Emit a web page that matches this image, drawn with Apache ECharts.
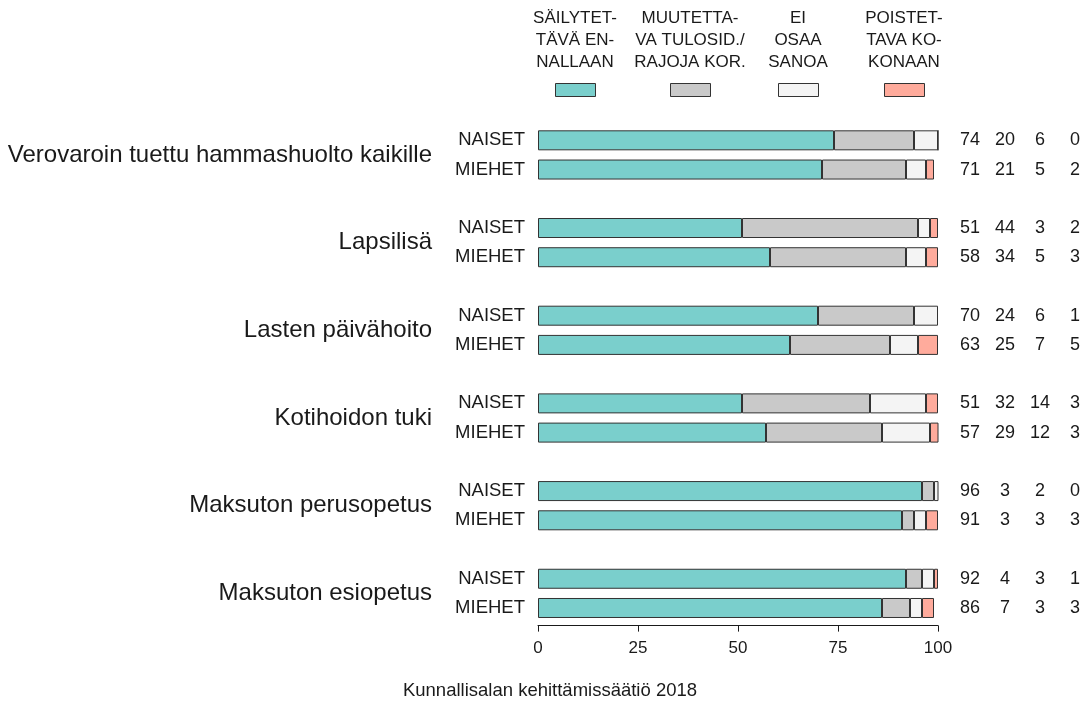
<!DOCTYPE html>
<html>
<head>
<meta charset="utf-8">
<script src="https://cdn.jsdelivr.net/npm/echarts@6/dist/echarts.min.js"></script>
<style>
html,body{margin:0;padding:0;background:#fff;}
#chart{width:1086px;height:703px;}
</style>
</head>
<body>
<div id="chart"></div>
<script>
const groups = [
  'Verovaroin tuettu hammashuolto kaikille',
  'Lapsilisä',
  'Lasten päivähoito',
  'Kotihoidon tuki',
  'Maksuton perusopetus',
  'Maksuton esiopetus'
];
const rowLabels = ['NAISET', 'MIEHET'];
const seriesNames = [
  'SÄILYTET-\nTÄVÄ EN-\nNALLAAN',
  'MUUTETTA-\nVA TULOSID./\nRAJOJA KOR.',
  'EI\nOSAA\nSANOA',
  'POISTET-\nTAVA KO-\nKONAAN'
];
// rows in order: group1 NAISET, group1 MIEHET, group2 NAISET, ...
const sailytettava = [74, 71, 51, 58, 70, 63, 51, 57, 96, 91, 92, 86];
const muutettava   = [20, 21, 44, 34, 24, 25, 32, 29, 3, 3, 4, 7];
const eiOsaa       = [6, 5, 3, 5, 6, 7, 14, 12, 2, 3, 3, 3];
const poistettava  = [0, 2, 2, 3, 1, 5, 3, 3, 0, 3, 1, 3];
const xTicks = [0, 25, 50, 75, 100];
const footer = 'Kunnallisalan kehittämissäätiö 2018';

const colors = ['#7ACFCC', '#C9C9C9', '#F4F4F4', '#FFAB9C'];
const FONT = '"Liberation Sans", Arial, Helvetica, sans-serif';
const TXT = '#1a1a1a';

// build category slots with a gap slot between groups
const cats = [];
const rowIndexOfSlot = [];
const groupSlots = [];
groups.forEach((g, gi) => {
  const s0 = cats.length;
  rowLabels.forEach((r, ri) => {
    cats.push(r);
    rowIndexOfSlot.push(gi * 2 + ri);
  });
  groupSlots.push([s0, s0 + 1]);
  if (gi < groups.length - 1) {
    cats.push('');
    rowIndexOfSlot.push(-1);
  }
});
const allSeries = [sailytettava, muutettava, eiOsaa, poistettava];
function slotData(arr) {
  return rowIndexOfSlot.map(i => (i < 0 ? '-' : arr[i]));
}

const chart = echarts.init(document.getElementById('chart'), null, {renderer: 'canvas'});

const legendCenters = [575, 690, 798, 904];

const option = {
  animation: false,
  backgroundColor: '#ffffff',
  textStyle: {fontFamily: FONT},
  grid: {left: 538, right: 148, top: 125.7, height: 496.9, containLabel: false},
  legend: seriesNames.map((n, i) => ({
    data: [n],
    left: legendCenters[i] - 20,
    top: 83,
    padding: 0,
    itemWidth: 40,
    itemHeight: 13,
    icon: 'rect',
    selectedMode: false,
    formatter: () => '',
    itemStyle: {borderColor: '#333', borderWidth: 1}
  })),
  xAxis: {
    type: 'value',
    min: 0,
    max: 100,
    interval: 25,
    offset: 3,
    axisLine: {show: true, lineStyle: {color: '#1a1a1a', width: 1}},
    axisTick: {show: true, length: 6, lineStyle: {color: '#1a1a1a'}},
    splitLine: {show: false},
    axisLabel: {
      margin: 14,
      fontSize: 17,
      color: TXT,
      fontFamily: FONT,
      formatter: v => (xTicks.indexOf(v) >= 0 ? String(v) : '')
    }
  },
  yAxis: [
    {
      type: 'category',
      data: cats,
      inverse: true,
      axisLine: {show: false},
      axisTick: {show: false},
      axisLabel: {interval: 0, margin: 13, fontSize: 18.5, color: TXT, fontFamily: FONT}
    },
    {
      type: 'category',
      data: cats,
      inverse: true,
      position: 'right',
      axisLine: {show: false},
      axisTick: {show: false},
      axisLabel: {
        interval: 0,
        margin: 14.5,
        color: TXT,
        fontFamily: FONT,
        fontSize: 18,
        formatter: (v, idx) => {
          const r = rowIndexOfSlot[idx];
          if (r < 0 || r === undefined) return '';
          return allSeries.map(a => '{c|' + a[r] + '}').join('');
        },
        rich: {
          c: {width: 35, align: 'center', fontSize: 18, color: TXT, fontFamily: FONT}
        }
      }
    }
  ],
  series: allSeries.map((arr, i) => ({
    name: seriesNames[i],
    type: 'bar',
    stack: 'total',
    barWidth: 20,
    yAxisIndex: 0,
    data: slotData(arr),
    itemStyle: {color: colors[i], borderColor: '#333', borderWidth: 1}
  }))
};
chart.setOption(option);

// text elements placed with the chart's own scales
const graphics = [];
groups.forEach((g, gi) => {
  const [a, b] = groupSlots[gi];
  const ya = chart.convertToPixel({yAxisIndex: 0}, a);
  const yb = chart.convertToPixel({yAxisIndex: 0}, b);
  graphics.push({
    type: 'text',
    x: 432,
    y: (ya + yb) / 2,
    style: {
      text: g,
      align: 'right',
      verticalAlign: 'middle',
      fontSize: 24,
      fontFamily: FONT,
      fill: TXT
    }
  });
});
seriesNames.forEach((n, i) => {
  graphics.push({
    type: 'text',
    x: legendCenters[i],
    y: 40,
    style: {
      text: n,
      align: 'center',
      verticalAlign: 'middle',
      fontSize: 17,
      lineHeight: 22,
      fontFamily: FONT,
      fill: TXT
    }
  });
});
graphics.push({
  type: 'text',
  x: 550,
  y: 691,
  style: {
    text: footer,
    align: 'center',
    verticalAlign: 'middle',
    fontSize: 18.5,
    fontFamily: FONT,
    fill: TXT
  }
});
chart.setOption({graphic: graphics});
</script>
</body>
</html>
